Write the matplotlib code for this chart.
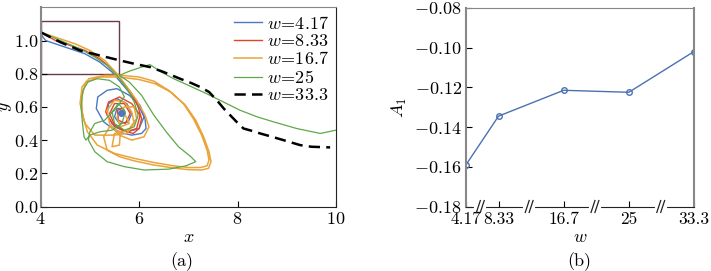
import numpy as np
import matplotlib.pyplot as plt
from matplotlib.patches import Rectangle

plt.rcParams['font.family'] = 'serif'
plt.rcParams['font.serif'] = ['cmr10']
plt.rcParams['mathtext.fontset'] = 'cm'
plt.rcParams['axes.formatter.use_mathtext'] = True
plt.rcParams['font.size'] = 13

# trayectorias (x, y)
x_w417 = [4.0, 4.1, 4.3, 4.6, 4.9, 5.2, 5.45, 5.65, 5.85, 6.0, 6.12, 6.14, 6.05, 5.85, 5.55, 5.28, 5.13,
          5.16, 5.35, 5.55, 5.8, 6.02, 6.1, 6.0, 5.75, 5.5, 5.35, 5.38, 5.55, 5.75, 5.85, 5.78, 5.6, 5.5,
          5.55, 5.68, 5.72, 5.65, 5.62, 5.66, 5.67, 5.64]
y_w417 = [1.04, 1.0, 0.98, 0.95, 0.92, 0.87, 0.81, 0.74, 0.67, 0.6, 0.53, 0.47, 0.44, 0.43, 0.45, 0.51, 0.59,
          0.66, 0.7, 0.71, 0.67, 0.61, 0.54, 0.47, 0.45, 0.48, 0.55, 0.62, 0.65, 0.62, 0.56, 0.51, 0.5, 0.54,
          0.59, 0.59, 0.56, 0.55, 0.57, 0.58, 0.56, 0.565]

x_w833 = [4.0, 4.3, 4.6, 4.9, 5.2, 5.45, 5.65, 5.85, 5.98, 6.05, 6.0, 5.88, 5.65, 5.45, 5.32, 5.38, 5.6,
          5.85, 6.02, 5.95, 5.75, 5.5, 5.4, 5.5, 5.7, 5.82, 5.72, 5.58, 5.56, 5.66, 5.7, 5.64]
y_w833 = [1.05, 1.0, 0.97, 0.94, 0.89, 0.83, 0.76, 0.68, 0.6, 0.53, 0.47, 0.44, 0.46, 0.5, 0.57, 0.63, 0.66,
          0.62, 0.55, 0.47, 0.45, 0.49, 0.56, 0.62, 0.62, 0.56, 0.5, 0.52, 0.58, 0.59, 0.56, 0.56]

x_w167 = [4.0, 4.3, 4.7, 5.0, 5.3, 5.55, 5.75, 5.95, 6.12, 6.2, 6.1, 5.85, 5.6, 5.4, 5.35, 5.5, 5.7,
          5.85, 5.9, 5.75, 5.5, 5.1, 4.9, 4.8, 4.84, 4.98, 5.3, 5.65, 6.0, 6.3, 6.6, 6.9, 7.1, 7.27, 7.38,
          7.42, 7.38, 7.25, 7.0, 6.7, 6.3, 5.9, 5.5, 5.15, 4.95, 4.85, 4.83, 4.92, 5.2, 5.6, 6.0, 6.32,
          6.64, 6.94, 7.15, 7.31, 7.42, 7.46, 7.41, 7.27, 7.0, 6.7, 6.3, 5.9, 5.6, 5.35, 5.28, 5.4, 5.62,
          5.6, 5.45, 5.5, 5.78, 5.95, 5.9, 5.7, 5.55, 5.62, 5.8, 5.72]
y_w167 = [1.05, 1.02, 0.98, 0.94, 0.88, 0.8, 0.72, 0.64, 0.55, 0.48, 0.42, 0.4, 0.43, 0.5, 0.58, 0.64, 0.63,
          0.57, 0.5, 0.44, 0.43, 0.43, 0.5, 0.62, 0.72, 0.77, 0.79, 0.79, 0.78, 0.755, 0.7, 0.62, 0.53, 0.43, 0.34,
          0.28, 0.245, 0.235, 0.235, 0.245, 0.265, 0.29, 0.32, 0.37, 0.45, 0.55, 0.66, 0.75, 0.78, 0.78, 0.765, 0.74,
          0.69, 0.61, 0.52, 0.42, 0.33, 0.27, 0.23, 0.22, 0.222, 0.232, 0.25, 0.275, 0.3, 0.34, 0.42, 0.48, 0.45,
          0.37, 0.36, 0.44, 0.46, 0.53, 0.6, 0.6, 0.54, 0.48, 0.5, 0.55]

x_w25 = [4.0, 4.4, 4.8, 5.1, 5.35, 5.55, 5.75, 5.9, 5.98, 5.9, 5.7, 5.5, 5.45, 5.58, 5.72, 5.65, 5.45,
         5.2, 5.0, 4.92, 4.88, 4.85, 4.82, 4.86, 4.96, 5.15, 5.4, 5.6, 5.7, 5.5, 5.3, 5.1, 5.0, 4.97,
         5.1, 5.35, 5.7, 6.1, 6.6, 6.95, 7.15, 7.05, 6.8, 6.55, 6.3, 6.05, 5.8, 5.6, 5.8, 6.05, 6.22,
         6.45, 6.7, 7.0, 7.37, 7.71, 8.05, 8.4, 8.73, 9.2, 9.68, 10.0]
y_w25 = [1.05, 1.0, 0.95, 0.9, 0.85, 0.79, 0.71, 0.63, 0.55, 0.48, 0.46, 0.5, 0.57, 0.62, 0.57, 0.5, 0.46,
         0.45, 0.43, 0.4, 0.42, 0.5, 0.6, 0.7, 0.75, 0.77, 0.76, 0.72, 0.66, 0.58, 0.52, 0.5, 0.45, 0.4,
         0.33, 0.27, 0.24, 0.22, 0.225, 0.245, 0.27, 0.3, 0.36, 0.45, 0.55, 0.67, 0.75, 0.79, 0.815, 0.84, 0.855,
         0.81, 0.77, 0.73, 0.68, 0.63, 0.58, 0.54, 0.51, 0.47, 0.44, 0.46]

x_w333 = [4.0, 4.4, 4.8, 5.2, 5.61, 5.9, 6.22, 6.5, 6.83, 7.05, 7.24, 7.42, 7.58, 7.72, 7.85, 7.98, 8.12,
          8.3, 8.46, 8.7, 8.93, 9.1, 9.27, 9.5, 9.88]
y_w333 = [1.05, 0.99, 0.94, 0.91, 0.88, 0.86, 0.84, 0.81, 0.77, 0.745, 0.72, 0.69, 0.64, 0.59, 0.55, 0.51, 0.47,
          0.455, 0.44, 0.42, 0.40, 0.385, 0.37, 0.36, 0.356]

# panel (b)
w_labels = ['4.17', '8.33', '16.7', '25', '33.3']
A1 = [-0.159, -0.1345, -0.1215, -0.1225, -0.102]

fig = plt.figure(figsize=(7.11, 2.71), dpi=100)
ax1 = fig.add_axes([0.0572, 0.238, 0.4154, 0.735])
ax2 = fig.add_axes([0.6554, 0.238, 0.3206, 0.733])

ax1.plot(x_w417, y_w417, color='#4a78c6', lw=1.0, label=r'$w\!=\!4.17$')
ax1.plot(x_w833, y_w833, color='#e0452a', lw=1.0, label=r'$w\!=\!8.33$')
ax1.plot(x_w167, y_w167, color='#eba43a', lw=1.1, label=r'$w\!=\!16.7$')
ax1.plot(x_w25, y_w25, color='#5ea84a', lw=0.9, label=r'$w\!=\!25$')
ax1.plot(x_w333, y_w333, color='black', lw=1.8, ls=(0, (4.5, 2.5)), label=r'$w\!=\!33.3$')
ax1.plot(x_w417[-1], y_w417[-1], 'o', color='#4a78c6', ms=4)

ax1.add_patch(Rectangle((4.0, 0.8), 1.6, 0.32, fill=False, ec='#6b3a4a', lw=1.0))

ax1.set_xlim(4, 10)
ax1.set_ylim(0, 1.2)
ax1.set_xticks([4, 6, 8, 10])
ax1.set_yticks(np.arange(0, 1.01, 0.2))
ax1.tick_params(direction='in', length=4, labelsize=13)
ax1.tick_params(axis='x', pad=3.5)
ax1.tick_params(axis='y', pad=1.5)
ax1.set_xlabel(r'$x$', labelpad=2)
ax1.set_ylabel(r'$y$')
ax1.yaxis.set_label_coords(-0.09, 0.5)
ax1.legend(loc='upper right', frameon=False, fontsize=13, handlelength=1.6,
           labelspacing=0.08, borderaxespad=0.15, handletextpad=0.25, borderpad=0.25)
for s in ['left', 'top']:
    ax1.spines[s].set_color('#888888')
ax1.spines['left'].set_linewidth(1.5)
for s in ['right', 'bottom']:
    ax1.spines[s].set_color('#222222')

# eje x con cortes
pos = [0, 0.5, 1.5, 2.5, 3.5]
ax2.plot(pos, A1, '-o', color='#4a72b0', lw=1.0, ms=4, mfc='none', mew=1.0)
ax2.set_xlim(0, 3.5)
ax2.set_ylim(-0.18, -0.08)
ax2.set_yticks(np.arange(-0.18, -0.079, 0.02))
ax2.set_xticks(pos)
ax2.set_xticklabels(w_labels)
ax2.tick_params(direction='in', length=4, labelsize=13)
ax2.tick_params(axis='x', pad=4, labelsize=12.5)
ax2.tick_params(axis='y', pad=3)
ax2.set_xlabel(r'$w$', labelpad=2)
ax2.set_ylabel(r'$A_1$', labelpad=4)
for s in ['left', 'top', 'right']:
    ax2.spines[s].set_color('#888888')
ax2.spines['left'].set_linewidth(1.5)
ax2.spines['right'].set_linewidth(1.5)
ax2.spines['bottom'].set_color('#222222')

tr = ax2.get_xaxis_transform()
for b in [0.22, 0.97, 1.98, 2.99]:
    ax2.plot([b - 0.06, b + 0.06], [0, 0], color='white', lw=3, transform=tr, clip_on=False, zorder=5)
    for d in [-0.03, 0.03]:
        ax2.plot([b + d - 0.03, b + d + 0.03], [-0.03, 0.03], color='#222222', lw=0.9,
                 transform=tr, clip_on=False, zorder=6)

fig.text(182 / 711, 1 - 262 / 271, '(a)', ha='center', va='center', fontsize=13)
fig.text(579 / 711, 1 - 262 / 271, '(b)', ha='center', va='center', fontsize=13)

fig.savefig('out.png', dpi=100)
